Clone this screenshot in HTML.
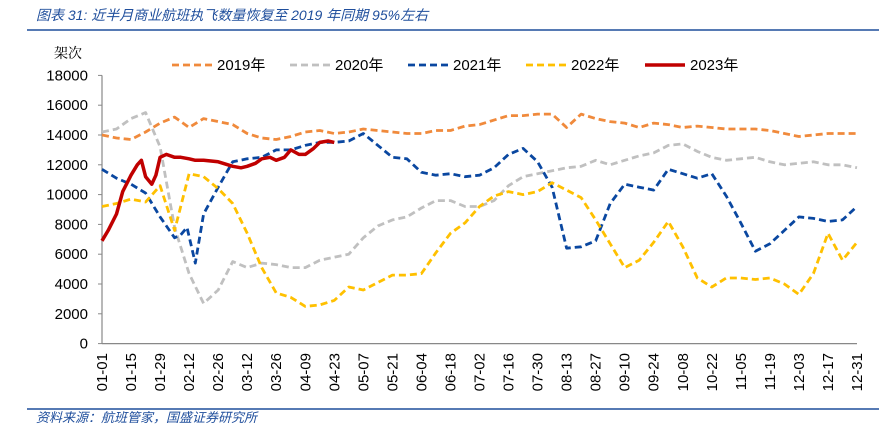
<!DOCTYPE html>
<html><head><meta charset="utf-8"><style>
body{margin:0;background:#fff;width:879px;height:440px;overflow:hidden;font-family:"Liberation Sans","Noto Sans CJK SC",sans-serif;}
</style></head><body>
<svg id="chart" width="879" height="440" xmlns="http://www.w3.org/2000/svg">
<text x="36" y="20" font-size="14" font-style="italic" fill="#1f4e9c" font-family="'Liberation Sans','Noto Sans CJK SC',sans-serif">图表 31:  近半月商业航班执飞数量恢复至 2019 年同期 95%左右</text>
<line x1="27" y1="30" x2="879" y2="30" stroke="#1f4e9c" stroke-width="1.5"/>
<text x="68" y="58" font-size="14" text-anchor="middle" fill="#000" font-family="'Noto Serif CJK SC',serif">架次</text>
<g id="axes"></g>
<g id="series"></g>
<g id="legend"></g>
<line x1="27" y1="409" x2="879" y2="409" stroke="#1f4e9c" stroke-width="1.5"/>
<text x="36" y="422" font-size="13" font-style="italic" fill="#1f4e9c" font-family="'Noto Sans CJK SC',sans-serif">资料来源：航班管家，国盛证券研究所</text>
</svg>
<script>
const yTicks=[0,2000,4000,6000,8000,10000,12000,14000,16000,18000];
const xTickLabels=["01-01","01-15","01-29","02-12","02-26","03-12","03-26","04-09","04-23","05-07","05-21","06-04","06-18","07-02","07-16","07-30","08-13","08-27","09-10","09-24","10-08","10-22","11-05","11-19","12-03","12-17","12-31"];
const xTickDays=[0,14,28,42,56,70,84,98,112,126,140,154,168,182,196,210,224,238,252,266,280,294,308,322,336,350,364];
const weekDays=[0,7,14,21,28,35,42,49,56,63,70,77,84,91,98,105,112,119,126,133,140,147,154,161,168,175,182,189,196,203,210,217,224,231,238,245,252,259,266,273,280,287,294,301,308,315,322,329,336,343,350,357,364];
const s2019=[14000,13800,13700,14200,14800,15200,14500,15100,14900,14700,14100,13800,13700,13900,14200,14300,14100,14200,14400,14300,14200,14100,14100,14300,14300,14600,14700,15000,15300,15300,15400,15400,14500,15400,15100,14900,14800,14500,14800,14700,14500,14600,14500,14400,14400,14400,14300,14100,13900,14000,14100,14100,14100];
const s2020=[14200,14400,15100,15500,13200,7800,4700,2700,3600,5500,5100,5400,5300,5100,5100,5600,5800,6000,7100,7900,8300,8500,9100,9600,9600,9200,9200,9600,10600,11200,11400,11600,11800,11900,12300,12000,12300,12600,12800,13300,13400,12900,12500,12300,12400,12500,12200,12000,12100,12200,12000,12000,11800];
const days2021=[0,7,14,21,28,35,38,41,45,49,56,63,70,77,84,91,98,105,112,119,126,133,140,147,154,161,168,175,182,189,196,203,210,217,224,231,238,245,252,259,266,273,280,287,294,301,308,315,322,329,336,343,350,357,364];
const s2021=[11700,11100,10700,10100,8500,7100,7300,7800,5400,8700,10500,12200,12400,12500,13000,13000,13300,13500,13500,13600,14100,13300,12500,12400,11500,11300,11400,11200,11300,11800,12700,13100,12200,10500,6400,6500,6900,9400,10700,10500,10300,11700,11400,11100,11400,9900,8100,6200,6700,7600,8500,8400,8200,8300,9200];
const s2022=[9200,9400,9700,9500,10600,7600,11400,11200,10400,9400,7400,5100,3400,3100,2500,2600,2900,3800,3600,4100,4600,4600,4700,6100,7400,8100,9200,9900,10200,10000,10200,10800,10300,9800,8300,6700,5100,5600,6800,8200,6500,4400,3800,4400,4400,4300,4400,4000,3300,4700,7400,5600,6800];
const days2023=[0,3,7,10,14,17,19,21,24,26,28,31,35,38,42,45,49,56,63,67,70,74,77,81,84,88,91,95,98,102,105,109,112];
const s2023=[6900,7600,8700,10200,11300,12000,12300,11200,10700,11300,12500,12700,12500,12500,12400,12300,12300,12200,11900,11800,11900,12100,12400,12500,12300,12500,13000,12700,12700,13100,13500,13600,13500];
const X0=102,X1=857,Y0=343.6,Y1=75.4,NS="http://www.w3.org/2000/svg";
function xs(d){return X0+(X1-X0)*d/364;}
function ys(v){return Y0-(Y0-Y1)*v/18000;}
function mk(tag,attrs,parent){const e=document.createElementNS(NS,tag);for(const k in attrs)e.setAttribute(k,attrs[k]);parent.appendChild(e);return e;}
const axes=document.getElementById('axes');
const yAxis=mk('line',{x1:X0,y1:Y1,x2:X0,y2:Y0,stroke:'#888','stroke-width':1.2},axes);


const xAxis=mk('line',{x1:X0,y1:Y0,x2:X1,y2:Y0,stroke:'#888','stroke-width':1.2},axes);


yTicks.forEach(v=>{
 const t=mk('line',{x1:X0-4,y1:ys(v),x2:X0,y2:ys(v),stroke:'#888'},axes);
 
 
 const l=mk('text',{x:88,y:ys(v)+5,'font-size':15,'text-anchor':'end',fill:'#000'},axes);
 
 
 l.textContent=v;
});
xTickLabels.forEach((s,i)=>{
 const x=xs(xTickDays[i]);
 const l=mk('text',{x:0,y:0,'font-size':15,'text-anchor':'end',fill:'#000',transform:`translate(${x+5},353) rotate(-90)`},axes);
 
 
 l.textContent=s;
});
const ser=document.getElementById('series');
function path(days,vals){return vals.map((v,i)=>(i?'L':'M')+xs(days[i]).toFixed(1)+','+ys(v).toFixed(1)).join(' ');}
const defs=[["2019年",weekDays,s2019,'#f08a3c',true,'line-2019'],["2020年",weekDays,s2020,'#c0c0c0',true,'line-2020'],["2021年",days2021,s2021,'#0a47a0',true,'line-2021'],["2022年",weekDays,s2022,'#ffc000',true,'line-2022'],["2023年",days2023,s2023,'#c00000',false,'line-2023']];
const leg=document.getElementById('legend');
const legX=[172,290,408,526,645];
defs.forEach((d,i)=>{
 const p=mk('path',{d:path(d[1],d[2]),fill:'none',stroke:d[3],'stroke-width':d[4]?2.8:3.5,'stroke-dasharray':d[4]?'7,4':'none','stroke-linejoin':'round'},ser);
 
 
 const g=mk('g',{},leg);
 
 
 mk('line',{x1:legX[i],y1:65,x2:legX[i]+40,y2:65,stroke:d[3],'stroke-width':d[4]?2.8:3.5,'stroke-dasharray':d[4]?'7,4':'none'},g);
 const t=mk('text',{x:legX[i]+45,y:70,'font-size':15,fill:'#000'},g);
 t.textContent=d[0];
});
</script>
</body></html>
